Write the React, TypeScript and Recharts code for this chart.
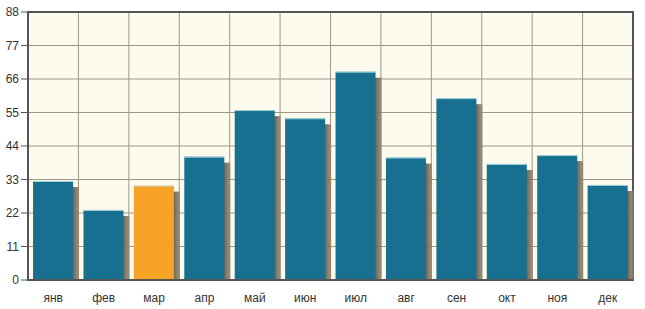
import React from "react";
import {
  BarChart,
  Bar,
  Cell,
  XAxis,
  YAxis,
  CartesianGrid,
  ReferenceArea,
} from "recharts";

const months = ["янв", "фев", "мар", "апр", "май", "июн", "июл", "авг", "сен", "окт", "ноя", "дек"];
const values = [32.5, 23, 31, 40.5, 55.8, 53.1, 68.4, 40.2, 59.7, 38.1, 41, 31.2];
const highlighted = ["мар"];
const yTicks = [0, 11, 22, 33, 44, 55, 66, 77, 88];

const data = months.map((m, i) => ({ month: m, value: values[i] }));

const BLUE = "#17708f";
const ORANGE = "#f7a326";

// bar with a soft drop shadow on the right
const ShadowBar = (props: any) => {
  const { x, y, width, height, fill } = props;
  if (!height || height <= 0) return null;
  const off = 6;
  return (
    <g>
      <rect
        x={x + off}
        y={y + off}
        width={width}
        height={Math.max(height - off, 0)}
        fill="url(#barShadow)"
      />
      <rect x={x} y={y} width={width} height={height} fill={fill} />
      <line x1={x} y1={y + 0.5} x2={x + width} y2={y + 0.5} stroke="#bfeaf3" strokeOpacity={0.8} />
    </g>
  );
};

const App = () => {
  return (
    <div style={{ position: "absolute", left: 0, top: 0, background: "#fff" }}>
      <BarChart
        width={645}
        height={309}
        data={data}
        margin={{ top: 12, right: 12, bottom: 0, left: 0 }}
        barCategoryGap="10%"
        style={{ fontFamily: "'Liberation Sans', Arial, sans-serif" }}
      >
        <defs>
          <linearGradient id="barShadow" x1="0" y1="0" x2="1" y2="0">
            <stop offset="80%" stopColor="#5f5645" stopOpacity={1} />
            <stop offset="100%" stopColor="#8f8774" stopOpacity={0.85} />
          </linearGradient>
        </defs>
        <CartesianGrid
          stroke="#9e9886"
          fill="#fdfaee"
          verticalCoordinatesGenerator={({ offset }: any) =>
            months.map((_, i) => offset.left + (i * offset.width) / months.length)
          }
        />
        <XAxis
          dataKey="month"
          axisLine={{ stroke: "#555", strokeWidth: 2 }}
          tickLine={false}
          tick={{ fill: "#333", fontSize: 12 }}
          height={29}
          tickMargin={7}
        />
        <YAxis
          domain={[0, 88]}
          ticks={yTicks}
          width={28}
          axisLine={{ stroke: "#555", strokeWidth: 2 }}
          tickLine={{ stroke: "#555" }}
          tickSize={7}
          tick={{ fill: "#333", fontSize: 12 }}
          interval={0}
        />
        <Bar dataKey="value" shape={<ShadowBar />} isAnimationActive={false}>
          {data.map((d) => (
            <Cell key={d.month} fill={highlighted.includes(d.month) ? ORANGE : BLUE} />
          ))}
        </Bar>
        <ReferenceArea y1={0} y2={88} fill="none" stroke="#555" strokeWidth={2} ifOverflow="extendDomain" />
      </BarChart>
    </div>
  );
};

export default App;
